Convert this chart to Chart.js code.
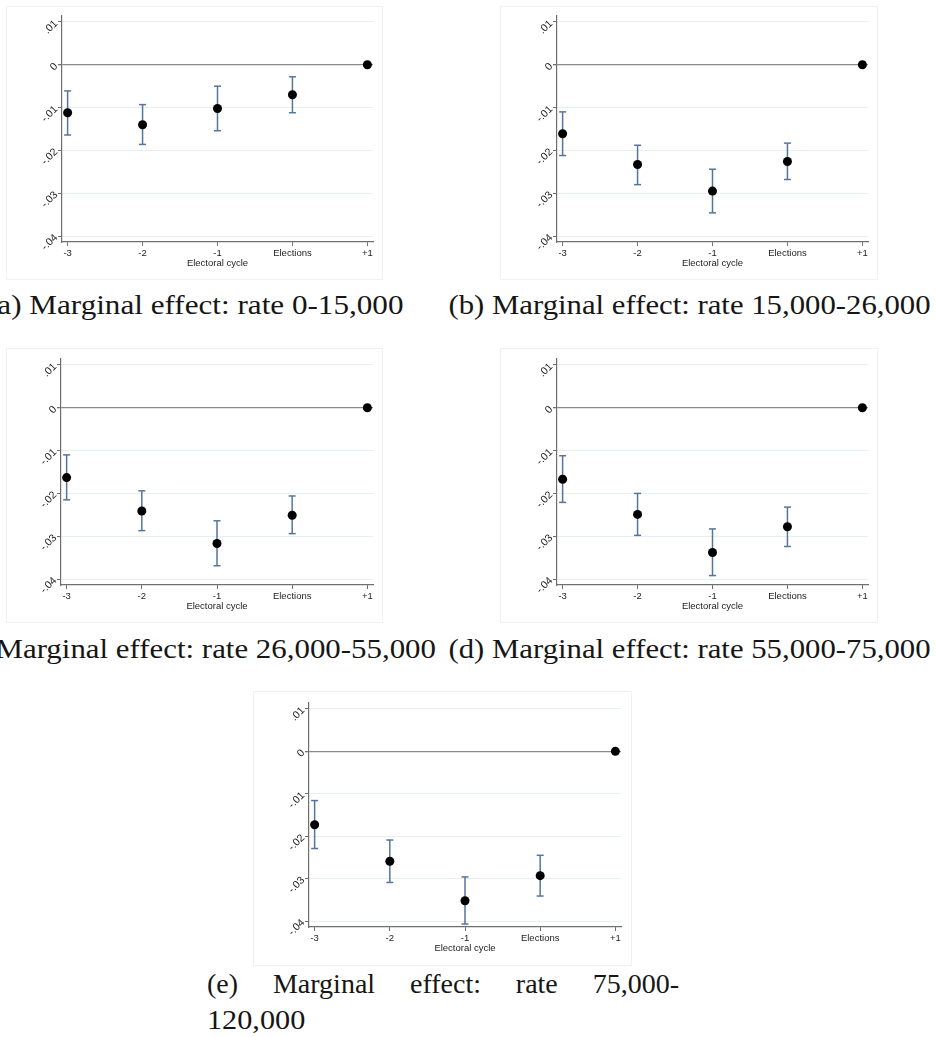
<!DOCTYPE html>
<html>
<head>
<meta charset="utf-8">
<script src="https://cdn.jsdelivr.net/npm/chart.js@4"></script>
<style>
  html, body { margin: 0; padding: 0; background: #fff; }
  body { width: 936px; height: 1037px; position: relative; overflow: hidden; }
  .panel { position: absolute; box-sizing: border-box; border: 1px solid #f0f2f2; background: #fff; }
  .cap { position: absolute; white-space: nowrap; font-family: "Liberation Serif", "DejaVu Serif", serif;
         font-size: 28px; line-height: 28px; color: #161616; }
</style>
</head>
<body>
<div class="panel" id="pa" style="left:6px;top:6px;width:377px;height:274px"><canvas id="ca"></canvas></div>
<div class="panel" id="pb" style="left:500px;top:6px;width:378px;height:274px"><canvas id="cb"></canvas></div>
<div class="panel" id="pc" style="left:6px;top:348px;width:377px;height:275px"><canvas id="cc"></canvas></div>
<div class="panel" id="pd" style="left:500px;top:348px;width:378px;height:275px"><canvas id="cd"></canvas></div>
<div class="panel" id="pe" style="left:253px;top:691px;width:379px;height:275px"><canvas id="ce"></canvas></div>

<div class="cap" id="capA"></div>
<div class="cap" id="capB"></div>
<div class="cap" id="capC"></div>
<div class="cap" id="capD"></div>
<div class="cap" id="capE1" style="left:207px;top:970px;width:472px;white-space:normal;text-align:justify;text-align-last:justify"></div>
<div class="cap" id="capE2" style="left:207px;top:1006px"></div>

<script>
const cycleLabels = ['-3', '-2', '-1', 'Elections', '+1'];
const yTickValues = [0.01, 0, -0.01, -0.02, -0.03, -0.04];
const yTickLabels = ['.01', '0', '-.01', '-.02', '-.03', '-.04'];
const xTitle = 'Electoral cycle';

// (a) rate 0-15,000
const estA  = [-0.0112, -0.0140, -0.0102, -0.0070, 0];
const lowA  = [-0.0164, -0.0186, -0.0154, -0.0112, null];
const highA = [-0.0061, -0.0093, -0.0050, -0.0028, null];

// (b) rate 15,000-26,000
const estB  = [-0.0161, -0.0233, -0.0295, -0.0226, 0];
const lowB  = [-0.0212, -0.0280, -0.0346, -0.0268, null];
const highB = [-0.0110, -0.0188, -0.0244, -0.0183, null];

// (c) rate 26,000-55,000
const estC  = [-0.0163, -0.0241, -0.0317, -0.0251, 0];
const lowC  = [-0.0215, -0.0287, -0.0369, -0.0294, null];
const highC = [-0.0110, -0.0194, -0.0264, -0.0206, null];

// (d) rate 55,000-75,000
const estD  = [-0.0167, -0.0249, -0.0338, -0.0278, 0];
const lowD  = [-0.0221, -0.0298, -0.0392, -0.0324, null];
const highD = [-0.0112, -0.0200, -0.0283, -0.0232, null];

// (e) rate 75,000-120,000
const estE  = [-0.0173, -0.0259, -0.0352, -0.0293, 0];
const lowE  = [-0.0229, -0.0309, -0.0407, -0.0341, null];
const highE = [-0.0116, -0.0209, -0.0296, -0.0245, null];

const captions = [
  '(a) Marginal effect: rate 0-15,000',
  '(b) Marginal effect: rate 15,000-26,000',
  '(c) Marginal effect: rate 26,000-55,000',
  '(d) Marginal effect: rate 55,000-75,000',
  '(e) Marginal effect: rate 75,000-',
  '120,000'
];

const axisGray = '#6f6f6f';
const gridColor = '#e8eff1';
const zeroColor = '#8a8a8a';
const ciColor = '#55769c';
const sans = "'Liberation Sans', Arial, sans-serif";

function makePanel(id, est, low, high, g) {
  const points = est.map((v, i) => ({x: i, y: v}));
  const bars = [];
  low.forEach((lo, i) => {
    if (lo === null) return;
    bars.push({x: i, y: lo}, {x: i, y: high[i]}, {x: i, y: null});
  });

  new Chart(document.getElementById(id), {
    type: 'scatter',
    data: {
      datasets: [
        {
          data: points,
          pointRadius: 4.5,
          pointHoverRadius: 4.5,
          backgroundColor: '#000',
          borderWidth: 0,
          clip: false
        },
        {
          type: 'line',
          data: bars,
          borderColor: ciColor,
          borderWidth: 1.5,
          pointStyle: 'line',
          pointRadius: 3.5,
          pointBorderColor: ciColor,
          pointBorderWidth: 1.5,
          spanGaps: false,
          clip: false
        }
      ]
    },
    options: {
      responsive: true,
      maintainAspectRatio: false,
      animation: false,
      events: [],
      layout: { padding: { top: g.top, right: g.right, bottom: g.bottom, left: 0 } },
      plugins: { legend: { display: false }, tooltip: { enabled: false } },
      scales: {
        x: {
          type: 'linear',
          min: -0.075,
          max: 4.075,
          afterBuildTicks: s => { s.ticks = cycleLabels.map((_, i) => ({value: i})); },
          afterFit: s => { s.height = g.xh; },
          grid: { drawOnChartArea: false, drawTicks: true, tickLength: 4, tickColor: axisGray, tickWidth: 1 },
          border: { color: axisGray, width: 1.2 },
          ticks: {
            padding: 2,
            color: '#222',
            font: { family: sans, size: 9.5 },
            maxRotation: 0,
            callback: v => cycleLabels[v]
          },
          title: {
            display: true,
            text: xTitle,
            color: '#222',
            font: { family: sans, size: 9.5 },
            padding: { top: 0, bottom: 0 }
          }
        },
        y: {
          min: -0.0414,
          max: 0.0114,
          afterBuildTicks: s => { s.ticks = yTickValues.map(v => ({value: v})); },
          afterFit: s => { s.width = g.yw; },
          grid: {
            color: c => (c.tick && Math.abs(c.tick.value) < 1e-9) ? zeroColor : gridColor,
            lineWidth: c => (c.tick && Math.abs(c.tick.value) < 1e-9) ? 1.3 : 1,
            tickLength: 4,
            tickColor: axisGray
          },
          border: { color: axisGray, width: 1.2 },
          ticks: {
            padding: 2,
            minRotation: 45,
            maxRotation: 45,
            color: '#222',
            font: { family: sans, size: 10.5 },
            callback: (v, i) => yTickLabels[i]
          }
        }
      }
    }
  });
}

makePanel('ca', estA, lowA, highA, {top: 9, right: 9, bottom: 10, xh: 27, yw: 55});
makePanel('cb', estB, lowB, highB, {top: 9, right: 9, bottom: 10, xh: 27, yw: 56});
makePanel('cc', estC, lowC, highC, {top: 10, right: 9, bottom: 10, xh: 27, yw: 54});
makePanel('cd', estD, lowD, highD, {top: 10, right: 9, bottom: 10, xh: 27, yw: 56});
makePanel('ce', estE, lowE, highE, {top: 11, right: 10, bottom: 11, xh: 27, yw: 55});

// captions: centred under each panel, stretched to the width of the original serif face
function placeCaption(id, text, centre, baseline, width) {
  const el = document.getElementById(id);
  el.textContent = text;
  const w = el.offsetWidth;
  el.style.left = (centre - w / 2) + 'px';
  el.style.top = (baseline - 24) + 'px';
  el.style.transformOrigin = 'center';
  el.style.transform = 'scaleX(' + (width / w) + ')';
}
placeCaption('capA', captions[0], 194.5, 315, 416);
placeCaption('capB', captions[1], 689, 315, 482);
placeCaption('capC', captions[2], 194.5, 659, 482);
placeCaption('capD', captions[3], 689, 659, 482);
document.getElementById('capE1').textContent = captions[4];
const e2 = document.getElementById('capE2');
e2.textContent = captions[5];
e2.style.transformOrigin = 'left';
e2.style.transform = 'scaleX(1.08)';
</script>
</body>
</html>
